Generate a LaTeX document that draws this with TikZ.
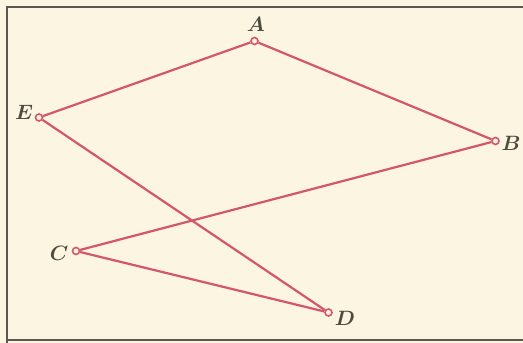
\documentclass[tikz,border=0pt]{standalone}
\definecolor{bg}{HTML}{FBF5E1}
\definecolor{edge}{HTML}{D4566E}
\definecolor{ink}{HTML}{4E4A40}
\definecolor{frame}{HTML}{5A5750}
\begin{document}
\begin{tikzpicture}[x=1pt,y=-1pt,
  pt/.style={circle,draw=edge,fill=bg,line width=1.6pt,inner sep=0pt,minimum size=7pt},
  lbl/.style={text=ink,font=\fontsize{22}{26}\selectfont\boldmath,inner sep=0pt},
  seg/.style={draw=edge,line width=2.2pt}]
\fill[bg] (0,0) rectangle (523,343);
\useasboundingbox (0,0) rectangle (523,343);
\draw[frame,line width=1.3pt] (523,7) -- (7,7) -- (7,343);
\draw[frame,line width=2pt] (7,340) -- (523,340);
\node[pt] (A) at (254.5,41) {};
\node[pt] (B) at (495.5,141) {};
\node[pt] (E) at (39,117.5) {};
\node[pt] (C) at (76,251) {};
\node[pt] (D) at (328.5,312.5) {};
\draw[seg] (E) -- (A);
\draw[seg] (A) -- (B);
\draw[seg] (B) -- (C);
\draw[seg] (C) -- (D);
\draw[seg] (E) -- (D);
\node[lbl] (la) at (256,24) {$A$};
\node[lbl] (lb) at (511,143) {$B$};
\node[lbl] (le) at (24,112) {$E$};
\node[lbl] (lc) at (59,253) {$C$};
\node[lbl] (ld) at (345,318) {$D$};
\end{tikzpicture}
\end{document}
